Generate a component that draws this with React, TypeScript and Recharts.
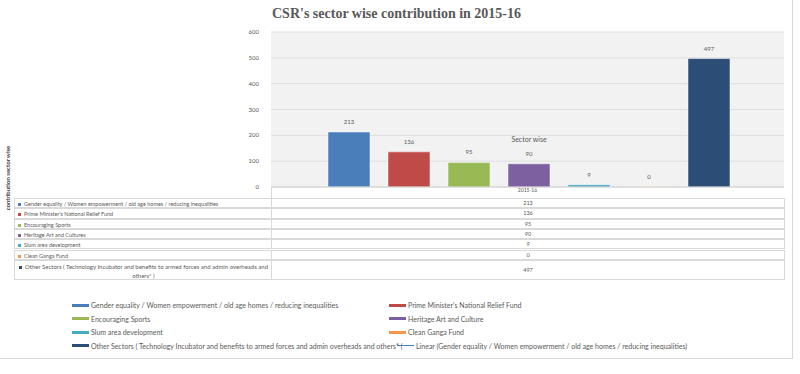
import { BarChart, Bar, XAxis, YAxis, CartesianGrid, LabelList } from "recharts";

const sectors = [
  "Gender equality / Women empowerment / old age homes / reducing inequalities",
  "Prime Minister's National Relief Fund",
  "Encouraging Sports",
  "Heritage Art and Cultures",
  "Slum area development",
  "Clean Ganga Fund",
  "Other Sectors ( Technology Incubator and benefits to armed forces and admin overheads and others* )",
];
const legendNames = [
  "Gender equality / Women empowerment / old age homes / reducing inequalities",
  "Prime Minister's National Relief Fund",
  "Encouraging Sports",
  "Heritage Art and Culture",
  "Slum area development",
  "Clean Ganga Fund",
  "Other Sectors ( Technology Incubator and benefits to armed forces and admin overheads and others* (",
];
const trendName =
  "Linear (Gender equality / Women empowerment / old age homes / reducing inequalities)";
const year = "2015-16";
const values = [213, 136, 95, 90, 9, 0, 497];
const colors = ["#4a7ebb", "#be4b48", "#98b954", "#7d60a0", "#46aac5", "#f79646", "#2c4d75"];
const yTicks = [0, 100, 200, 300, 400, 500, 600];

const keys = values.map((_, i) => `s${i}`);
const data = [
  values.reduce<Record<string, number | string>>(
    (row, v, i) => {
      row[keys[i]] = v;
      return row;
    },
    { name: year }
  ),
];

const smallFont = "Lato, 'Open Sans', sans-serif";
const grey = "#595959";

const SectorWiseLabel = (props: any) => {
  const { x, y, width } = props;
  return (
    <text x={x + width / 2} y={y - 22} textAnchor="middle" fontSize={7} fill={grey} fontFamily={smallFont}>
      Sector wise
    </text>
  );
};

const rowTops = [198, 208.3, 218.6, 228.9, 239.2, 249.5, 259.8];
const rowHeights = [10.3, 10.3, 10.3, 10.3, 10.3, 10.3, 20.5];

export default function App() {
  return (
    <div style={{ position: "absolute", left: 0, top: 0, width: 800, height: 374, background: "#fff", overflow: "hidden", fontFamily: smallFont }}>
      {/* outer chart frame */}
      <div style={{ position: "absolute", left: -2, top: -2, width: 795, height: 361, border: "1px solid #d9d9d9", boxSizing: "border-box" }} />

      <div style={{ position: "absolute", left: 0, top: 0 }}>
        <BarChart width={800} height={374} data={data} margin={{ top: 32, right: 16, bottom: 177, left: 0 }} barCategoryGap={57} barGap={18}>
          <CartesianGrid vertical={false} stroke="#dedede" fill="#f2f2f2" />
          <XAxis dataKey="name" height={10} tickLine={false} tickSize={0} axisLine={{ stroke: "#d0d0d0" }} tick={{ fontSize: 5, fill: grey, fontFamily: smallFont }} tickMargin={1} />
          <YAxis width={271} domain={[0, 600]} ticks={yTicks} axisLine={false} tickLine={false} tickMargin={6} tick={{ fontSize: 6, fill: grey, fontFamily: smallFont }} />
          {keys.map((k, i) => (
            <Bar key={k} dataKey={k} fill={colors[i]} stroke="#ffffff" strokeWidth={0.5} minPointSize={values[i] === 0 ? 0.5 : 0} isAnimationActive={false}>
              <LabelList dataKey={k} position="top" offset={8} fontSize={6} fill={grey} fontFamily={smallFont} />
              {i === 3 && <LabelList dataKey={k} content={<SectorWiseLabel />} />}
            </Bar>
          ))}
        </BarChart>
      </div>

      {/* title */}
      <div style={{ position: "absolute", left: 272, top: 6, fontFamily: "'Liberation Serif', serif", fontWeight: "bold", fontSize: 14, color: grey, whiteSpace: "nowrap" }}>
        CSR's sector wise contribution in {year}
      </div>

      {/* y axis title */}
      <div style={{ position: "absolute", left: 7, top: 178, transform: "translate(-50%, -50%) rotate(-90deg)", fontSize: 6, fontWeight: "bold", color: "#404040", whiteSpace: "nowrap" }}>
        contribution sector wise
      </div>

      {/* data table */}
      <div style={{ position: "absolute", left: 271, top: 187, width: 0, height: 11, borderLeft: "1px solid #d9d9d9" }} />
      {sectors.map((s, i) => (
        <div key={s}>
          <div style={{ position: "absolute", left: 14, top: rowTops[i], width: 258, height: rowHeights[i], border: "1px solid #d9d9d9", boxSizing: "border-box", fontSize: i === 6 ? 6 : 5.5, color: grey, lineHeight: i === 6 ? "9px" : "8px", padding: "1px 2px 0 3px", textAlign: i === 6 ? "center" : "left", overflow: "hidden" }}>
            <span style={{ display: "inline-block", width: 3, height: 3, background: colors[i], marginRight: 3, verticalAlign: "middle" }} />
            {s}
          </div>
          <div style={{ position: "absolute", left: 271, top: rowTops[i], width: 514, height: rowHeights[i], border: "1px solid #d9d9d9", boxSizing: "border-box", fontSize: 5.5, color: grey, display: "flex", alignItems: "center", justifyContent: "center" }}>
            {values[i]}
          </div>
        </div>
      ))}

      {/* legend */}
      {legendNames.map((n, i) => {
        const col = i === 6 ? 0 : i % 2;
        const row = i === 6 ? 3 : Math.floor(i / 2);
        const left = col === 0 ? 72 : 389;
        return (
          <div key={n} style={{ position: "absolute", left, top: 300 + row * 13.5, height: 10, display: "flex", alignItems: "center", fontSize: 7, color: grey, whiteSpace: "nowrap" }}>
            <span style={{ display: "inline-block", width: 17, height: 3, background: colors[i], marginRight: 2 }} />
            {n}
          </div>
        );
      })}
      <div style={{ position: "absolute", left: 397, top: 300 + 3 * 13.5, height: 10, display: "flex", alignItems: "center", fontSize: 7, color: grey, whiteSpace: "nowrap" }}>
        <span style={{ display: "inline-block", width: 17, height: 1, background: colors[0], marginRight: 2 }} />
        {trendName}
      </div>
    </div>
  );
}
